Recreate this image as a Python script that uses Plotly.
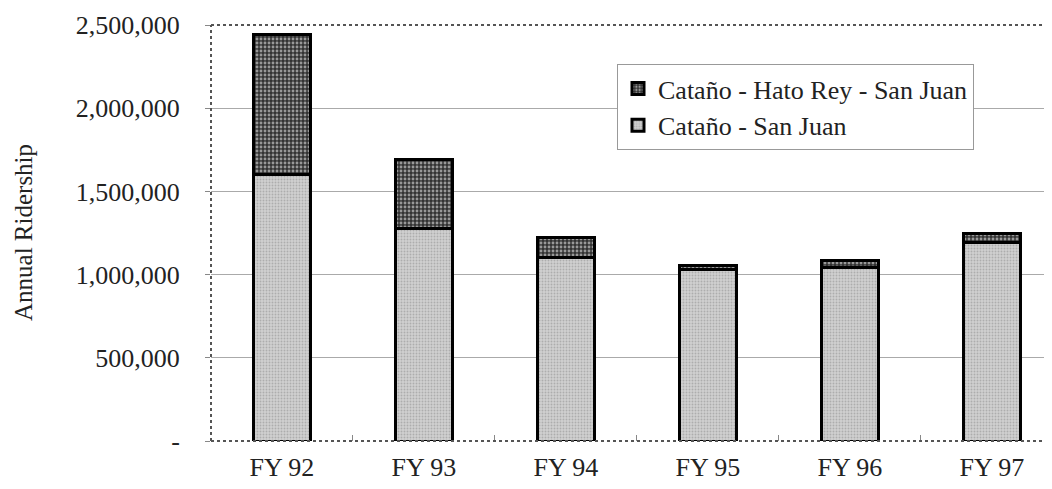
import plotly.graph_objects as go

categories = ["FY 92", "FY 93", "FY 94", "FY 95", "FY 96", "FY 97"]
catano_san_juan = [1600000, 1280000, 1100000, 1030000, 1040000, 1190000]
catano_hato_rey_san_juan = [840000, 410000, 120000, 25000, 45000, 60000]
y_tickvals = [0, 500000, 1000000, 1500000, 2000000, 2500000]
y_ticktext = ["-", "500,000", "1,000,000", "1,500,000", "2,000,000", "2,500,000"]

FONT = "Liberation Serif, Times New Roman, serif"
FS = 26

fig = go.Figure()
fig.add_trace(go.Bar(
    x=categories, y=catano_san_juan, name="Cataño - San Juan",
    width=0.4,
    marker=dict(color="#c4c4c4", line=dict(color="black", width=3),
                pattern=dict(shape=".", fgcolor="#8a8a8a", bgcolor="#d0d0d0", size=3, solidity=0.3)),
))
fig.add_trace(go.Bar(
    x=categories, y=catano_hato_rey_san_juan, name="Cataño - Hato Rey - San Juan",
    width=0.4,
    marker=dict(color="#222", line=dict(color="black", width=3),
                pattern=dict(shape=".", fgcolor="#ffffff", bgcolor="#333333", size=4, solidity=0.4)),
))

OFF = 8  # page body margin
W, H = 1052, 489
PLOT_LEFT, PLOT_TOP, PLOT_BOTTOM = 211, 25, 441
L, R, T = PLOT_LEFT - OFF, 0, PLOT_TOP - OFF
B = OFF + H - PLOT_BOTTOM
pw = W - L - R
ph = H - T - B

fig.update_layout(
    width=W, height=H,
    margin=dict(l=L, r=R, t=T, b=B, pad=0),
    barmode="stack",
    plot_bgcolor="white", paper_bgcolor="white",
    font=dict(family=FONT, size=FS, color="#222"),
    showlegend=True,
    legend=dict(
        x=(617 - PLOT_LEFT) / pw, y=1 - (64 - PLOT_TOP) / ph, xanchor="left", yanchor="top",
        traceorder="reversed", bordercolor="#999", borderwidth=1, bgcolor="white",
        font=dict(family=FONT, size=FS, color="#222"),
        itemwidth=30, tracegroupgap=0,
    ),
    xaxis=dict(
        type="category", range=[-0.5, 5.48],
        tickson="boundaries", ticks="inside", ticklen=6, tickcolor="#888",
        showgrid=False, showline=False, zeroline=False,
        tickfont=dict(family=FONT, size=FS, color="#222"),
        ticklabelstandoff=8,
    ),
    yaxis=dict(
        range=[0, 2500000], tickvals=y_tickvals, ticktext=y_ticktext,
        showgrid=True, gridcolor="#aaa", gridwidth=1,
        ticks="outside", ticklen=5, tickcolor="#888",
        showline=False, zeroline=False,
        tickfont=dict(family=FONT, size=FS, color="#222"),
        ticklabelstandoff=20,
    ),
    annotations=[dict(
        text="Annual Ridership", textangle=-90, xref="paper", yref="paper",
        x=(23 - PLOT_LEFT) / pw, y=0.5, xanchor="center", yanchor="middle", showarrow=False,
        font=dict(family=FONT, size=FS - 1, color="#222"),
    )],
    shapes=[
        dict(type="line", xref="paper", yref="paper", x0=0, x1=0, y0=0, y1=1,
             line=dict(color="#555", width=2, dash="dot")),
        dict(type="line", xref="paper", yref="paper", x0=0, x1=1, y0=1, y1=1,
             line=dict(color="#555", width=2, dash="dot")),
        dict(type="line", xref="paper", yref="paper", x0=0, x1=1, y0=0, y1=0,
             line=dict(color="#555", width=2, dash="dot")),
    ],
)

fig.write_html("out.html")
